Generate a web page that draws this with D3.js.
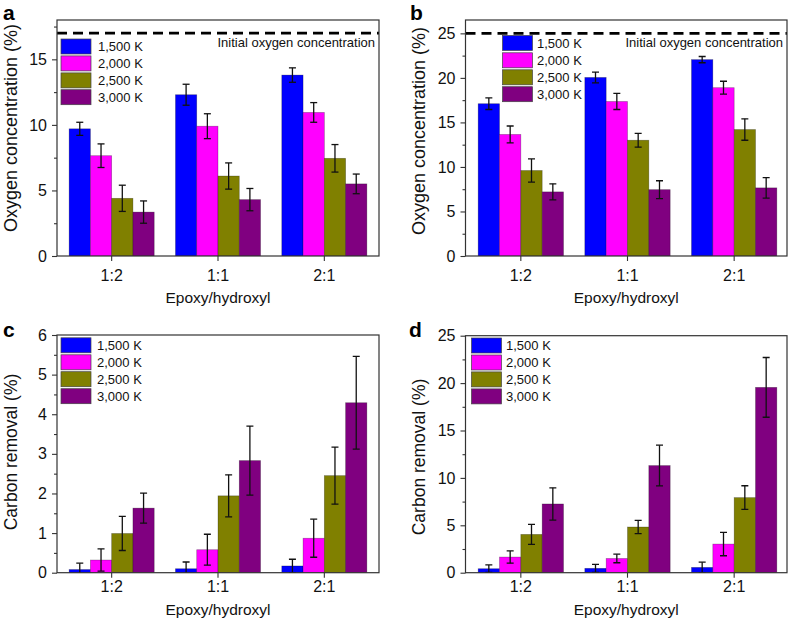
<!DOCTYPE html>
<html><head><meta charset="utf-8">
<script src="https://cdn.jsdelivr.net/npm/d3@7"></script>
<style>
body{margin:0;background:#fff}
svg{display:block}
text{font-family:"Liberation Sans",Arial,Helvetica,sans-serif;fill:#111}
</style>
</head><body>
<svg id="chart" width="788" height="619"></svg>
<script>
// ---- data ----
const categories = ["1:2", "1:1", "2:1"];
const series = ["1,500 K", "2,000 K", "2,500 K", "3,000 K"];
const seriesColors = ["#0000ff", "#ff00ff", "#808000", "#800080"];

// values[series][category]
const oxygenA    = [[9.7, 12.3, 13.8], [7.65, 9.9, 10.95], [4.4, 6.1, 7.45], [3.35, 4.3, 5.5]];
const oxygenAErr = [[0.5, 0.8, 0.55], [0.9, 0.95, 0.75], [1.0, 1.0, 1.05], [0.85, 0.85, 0.75]];
const oxygenB    = [[17.1, 20.05, 22.05], [13.65, 17.35, 18.9], [9.6, 13.0, 14.2], [7.2, 7.45, 7.65]];
const oxygenBErr = [[0.65, 0.6, 0.35], [0.95, 0.9, 0.72], [1.3, 0.78, 1.2], [0.9, 1.0, 1.15]];
const carbonC    = [[0.08, 0.1, 0.17], [0.32, 0.58, 0.87], [0.99, 1.94, 2.45], [1.63, 2.83, 4.29]];
const carbonCErr = [[0.16, 0.17, 0.17], [0.28, 0.39, 0.48], [0.43, 0.53, 0.72], [0.38, 0.87, 1.17]];
const carbonD    = [[0.42, 0.46, 0.56], [1.65, 1.5, 3.02], [4.04, 4.82, 7.92], [7.25, 11.3, 19.55]];
const carbonDErr = [[0.4, 0.42, 0.55], [0.65, 0.45, 1.23], [1.05, 0.7, 1.25], [1.7, 2.15, 3.15]];

const oxygenTicksA = [0, 5, 10, 15];
const oxygenMinorA = [2.5, 7.5, 12.5, 17.5];
const oxygenTicksB = [0, 5, 10, 15, 20, 25];
const oxygenMinorB = [2.5, 7.5, 12.5, 17.5, 22.5];
const carbonTicksC = [0, 1, 2, 3, 4, 5, 6];
const carbonMinorC = [0.5, 1.5, 2.5, 3.5, 4.5, 5.5];
const carbonTicksD = [0, 5, 10, 15, 20, 25];
const carbonMinorD = [2.5, 7.5, 12.5, 17.5, 22.5];

const initialOxygenA = 17;
const initialOxygenB = 25;

const xTitle = "Epoxy/hydroxyl";
const refLabel = "Initial oxygen concentration";

// ---- layout ----
const panels = [
  {letter: "a", lx: 3, ly: 20, values: oxygenA, errors: oxygenAErr, yMax: 18, ticks: oxygenTicksA, minor: oxygenMinorA,
   ref: initialOxygenA, ytitle: "Oxygen concentration (%)", yfs: 18, ytx: 16.5, yty: 128,
   f: {l: 57, r: 379, t: 20, b: 256}, band: [58.5, 377.5], catY: 281, xtY: 303,
   leg: {sx: 61, tx: 98, cy: [46.5, 63.4, 80.4, 97.2]}},
  {letter: "b", lx: 410, ly: 20, values: oxygenB, errors: oxygenBErr, yMax: 26.5, ticks: oxygenTicksB, minor: oxygenMinorB,
   ref: initialOxygenB, ytitle: "Oxygen concentration (%)", yfs: 18, ytx: 424.5, yty: 131,
   f: {l: 465.5, r: 787, t: 20, b: 256}, band: [467.5, 787.5], catY: 281, xtY: 303,
   leg: {sx: 502.5, tx: 537, cy: [43, 60.3, 77.3, 94.2]}},
  {letter: "c", lx: 3, ly: 337, values: carbonC, errors: carbonCErr, yMax: 6, ticks: carbonTicksC, minor: carbonMinorC,
   ref: null, ytitle: "Carbon removal (%)", yfs: 17.5, ytx: 16.5, yty: 452,
   f: {l: 57, r: 379, t: 335, b: 572.7}, band: [58.5, 377.5], catY: 592, xtY: 615,
   leg: {sx: 61, tx: 97, cy: [345.3, 362.3, 379.2, 396.2]}},
  {letter: "d", lx: 409, ly: 337, values: carbonD, errors: carbonDErr, yMax: 25, ticks: carbonTicksD, minor: carbonMinorD,
   ref: null, ytitle: "Carbon removal (%)", yfs: 17.5, ytx: 424.5, yty: 457,
   f: {l: 465.5, r: 787, t: 335.7, b: 572.7}, band: [467.5, 787.5], catY: 592, xtY: 615,
   leg: {sx: 471.5, tx: 506, cy: [345.5, 362.5, 379.4, 396.4]}}
];

const svg = d3.select("#chart");

panels.forEach((p, pi) => {
  const g = svg.append("g");
  const y = d3.scaleLinear().domain([0, p.yMax]).range([p.f.b, p.f.t]);
  const x0 = d3.scaleBand().domain(categories).range(p.band).padding(0);
  const bw = x0.bandwidth();
  const x1 = d3.scaleBand().domain(series).range([0.1 * bw, 0.9 * bw]).padding(0);

  const clipId = "clip" + pi;
  svg.append("clipPath").attr("id", clipId).append("rect")
    .attr("x", p.f.l).attr("y", p.f.t).attr("width", p.f.r - p.f.l).attr("height", p.f.b - p.f.t);

  const plot = g.append("g").attr("clip-path", `url(#${clipId})`);

  // reference dashed line
  if (p.ref != null) {
    plot.append("line")
      .attr("x1", p.f.l).attr("x2", p.f.r)
      .attr("y1", y(p.ref)).attr("y2", y(p.ref))
      .attr("stroke", "#000").attr("stroke-width", 2.6)
      .attr("stroke-dasharray", "10,6");
    g.append("text").attr("x", p.f.r - 4).attr("y", 46.7)
      .attr("text-anchor", "end").attr("font-size", 13).text(refLabel);
  }

  // bars
  const data = [];
  series.forEach((s, si) => categories.forEach((c, ci) => {
    data.push({s, si, c, v: p.values[si][ci], e: p.errors[si][ci]});
  }));

  plot.selectAll("rect.bar").data(data).join("rect")
    .attr("class", "bar")
    .attr("x", d => x0(d.c) + x1(d.s))
    .attr("width", x1.bandwidth())
    .attr("y", d => y(d.v))
    .attr("height", d => y(0) - y(d.v))
    .attr("fill", d => seriesColors[d.si])
    .attr("stroke", "rgba(0,0,0,0.35)").attr("stroke-width", 0.7);

  // error bars
  const eb = plot.selectAll("g.err").data(data).join("g").attr("class", "err")
    .attr("stroke", "#111").attr("stroke-width", 1.3);
  const cx = d => x0(d.c) + x1(d.s) + x1.bandwidth() / 2;
  eb.append("line").attr("x1", cx).attr("x2", cx)
    .attr("y1", d => y(d.v + d.e)).attr("y2", d => y(d.v - d.e));
  eb.append("line").attr("x1", d => cx(d) - 3.5).attr("x2", d => cx(d) + 3.5)
    .attr("y1", d => y(d.v + d.e)).attr("y2", d => y(d.v + d.e));
  eb.append("line").attr("x1", d => cx(d) - 3.5).attr("x2", d => cx(d) + 3.5)
    .attr("y1", d => y(d.v - d.e)).attr("y2", d => y(d.v - d.e));

  // axes
  const yAx = g.append("g").attr("transform", `translate(${p.f.l},0)`)
    .call(d3.axisLeft(y).tickValues(p.ticks).tickSize(5).tickPadding(5).tickFormat(d3.format("d")));
  yAx.select(".domain").remove();
  yAx.selectAll("text").attr("font-size", 16).attr("font-family", null).style("fill", "#111");
  yAx.selectAll("line").attr("stroke", "#333").attr("stroke-width", 1.1);

  const yMin = g.append("g").attr("transform", `translate(${p.f.l},0)`)
    .call(d3.axisLeft(y).tickValues(p.minor).tickSize(3).tickFormat(""));
  yMin.select(".domain").remove();
  yMin.selectAll("line").attr("stroke", "#333").attr("stroke-width", 1.1);

  const xAx = g.append("g").attr("transform", `translate(0,${p.f.b})`)
    .call(d3.axisBottom(x0).tickSize(5).tickPadding(0));
  xAx.select(".domain").remove();
  xAx.selectAll("line").attr("stroke", "#333").attr("stroke-width", 1.1);
  xAx.selectAll("text").attr("font-size", 16).attr("font-family", null)
    .attr("y", p.catY - p.f.b).attr("dy", null).style("fill", "#111");

  // frame
  g.append("rect").attr("x", p.f.l).attr("y", p.f.t)
    .attr("width", p.f.r - p.f.l).attr("height", p.f.b - p.f.t)
    .attr("fill", "none").attr("stroke", "#333").attr("stroke-width", 1.2);

  // legend
  const lg = g.append("g");
  series.forEach((s, si) => {
    lg.append("rect").attr("x", p.leg.sx).attr("y", p.leg.cy[si] - 7.5)
      .attr("width", 30).attr("height", 15)
      .attr("fill", seriesColors[si]).attr("stroke", "#444").attr("stroke-width", 0.7);
    lg.append("text").attr("x", p.leg.tx).attr("y", p.leg.cy[si] + 4.7)
      .attr("font-size", 13).text(s);
  });

  // titles
  g.append("text").attr("x", (p.f.l + p.f.r) / 2).attr("y", p.xtY)
    .attr("text-anchor", "middle").attr("font-size", 15.5).text(xTitle);
  g.append("text").attr("transform", `translate(${p.ytx},${p.yty}) rotate(-90)`)
    .attr("text-anchor", "middle").attr("font-size", p.yfs).text(p.ytitle);
  g.append("text").attr("x", p.lx).attr("y", p.ly)
    .attr("font-size", 21).attr("font-weight", "bold").style("fill", "#000").text(p.letter);
});
</script>
</body></html>
